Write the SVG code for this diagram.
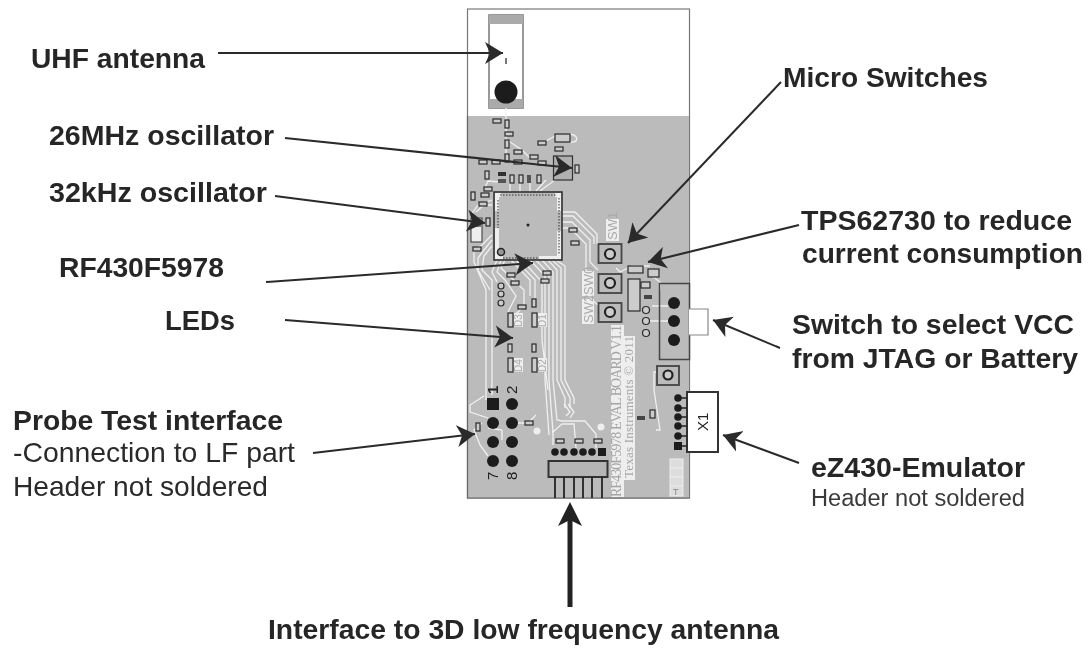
<svg xmlns="http://www.w3.org/2000/svg" width="1091" height="648" viewBox="0 0 1091 648">
<style>
.l{font-family:"Liberation Sans",Arial,sans-serif;font-weight:700;font-size:28.300px;fill:#262626}
.r{font-family:"Liberation Sans",Arial,sans-serif;font-size:28px;fill:#2a2a2a}
.s{font-family:"Liberation Sans",Arial,sans-serif;font-size:23.500px;fill:#3a3a3a}
.ar{fill:none;stroke:#2a2a2a;stroke-width:2}
.tr{fill:none;stroke:#f0f0f0;stroke-width:1.300}
.sm{fill:#ccc;stroke:#2a2a2a;stroke-width:1.200}
.sq{fill:#bbb;stroke:#444;stroke-width:1.800}
.ring{fill:#ccc;stroke:#222;stroke-width:2.200}
.pad{fill:#1e1e1e}
.silk{font-family:"Liberation Sans",Arial,sans-serif;font-size:13px;fill:#aaa}
.wb{fill:#eee}
.dark{font-family:"Liberation Sans",Arial,sans-serif;font-size:14px;fill:#222}
.ser{font-family:"Liberation Serif",serif;font-size:14px;fill:#a5a5a5}
</style>
<defs>
<marker id="a" markerUnits="userSpaceOnUse" markerWidth="22" markerHeight="26" refX="18" refY="12" orient="auto"><path d="M0 1L18 12L0 23L5 12Z" fill="#2a2a2a"/></marker>
<filter id="b"><feGaussianBlur stdDeviation="0.45"/></filter>
</defs>
<rect width="1091" height="648" fill="#fff"/>

<g id="board" filter="url(#b)">
<rect x="467.500" y="9" width="222" height="489" fill="#fff" stroke="#777" stroke-width="1.200"/>
<rect x="468" y="116" width="221" height="382" fill="#bbb"/>
<path d="M467.500 116V498H689.500" fill="none" stroke="#666" stroke-width="1.200"/>
<g id="antenna-part">
<rect x="489" y="15" width="34" height="93" fill="#fff" stroke="#777" stroke-width="1.500"/>
<rect x="489" y="15" width="34" height="9" fill="#aaa"/>
<rect x="489" y="99" width="34" height="9" fill="#aaa"/>
<circle cx="506" cy="92" r="11.500" fill="#1e1e1e"/>
<rect x="505" y="58" width="2" height="6" fill="#777"/>
</g>
<g id="traces">
<path class="tr" d="M506 108V160M507 140L522 150L530 158M555 162V180L540 191M546 180L536 191M530 182V192M520 182V192M510 182V192M500 182L488 181L484 190M555 136L546 141M570 134C580 136 578 143 570 142"/>
<path class="tr" d="M562 212H575L597 234V244M562 216H573L594 237V244M562 222H572L590 240V262L598 270M562 228H570L586 244V295L598 305"/>
<path class="tr" d="M492 200L478 205L471 215V222M492 205H484L476 212M492 235L482 245L474 250V262L486 290V400M492 240L484 250L478 258V270L490 290M492 246L484 256L482 270L492 280V395"/>
<path class="tr" d="M497 260L492 272L497 282M501 260L497 272L505 280L516 296L508 312M505 260L501 268L524 290L524 306L514 316M511 260L530 280V296M516 260L535 280V298"/>
<path class="tr" d="M522 260L542 282V340L548 390M530 260L545 276V380L549 435M536 260L549 274V380L553 432L562 424H574L576 448M542 260L553 272V380L557 420L562 421H585L596 434V448M548 260L557 270V380L565 398V408M552 260L561 268V380L570 398V408M556 260L565 266V380L574 398V404"/>
<path class="tr" d="M564 404L570 412L566 416M568 404L574 412L570 418M553 430V445"/>
<path class="tr" d="M650 266L632 266L620 272L616 268M652 276L660 282V290M652 306H668M648 321H668M678 372H654V390L660 430H656M510 423H528L536 415M488 418L470 412V405L484 396M488 428L502 430V440M482 423L474 430L480 445L488 456"/>
</g>
<g id="chip">
<rect x="494" y="192" width="68" height="68" fill="#bbb" stroke="#333" stroke-width="1.600"/>
<path d="M495 193h6v4h-2v14h-4zM555 193h6v18h-4v-14h-2zM495 228h4v20h4v11h-8zM557 231h4v28h-22v-3h18z" fill="#eee"/>
<path d="M500 195H556M559 198V254M498 200V228M503 258H538" stroke="#333" stroke-width="1" stroke-dasharray="1.500 1.500" fill="none"/>
<circle cx="528" cy="225" r="1.500" fill="#222"/>
<circle cx="501" cy="252" r="3.500" fill="#999" stroke="#222" stroke-width="1.500"/>
</g>
<g id="oscillators">
<rect x="553.500" y="156" width="19" height="24" fill="#b0b0b0" stroke="#333" stroke-width="1.200"/>
<rect x="471" y="218" width="11" height="24" fill="#eee" stroke="#333"/>
<rect x="472" y="219" width="9" height="8" fill="#777"/>
</g>
<g id="small-parts">
<rect class="sm" x="493" y="119" width="8" height="4"/><rect class="sm" x="505" y="120" width="4" height="8"/><rect class="sm" x="505" y="132" width="8" height="4"/><rect class="sm" x="505" y="140" width="4" height="8"/><rect class="sm" x="514" y="150" width="8" height="4"/><rect class="sm" x="505" y="154" width="4" height="8"/><rect class="sm" x="530" y="155" width="8" height="4"/><rect class="sm" x="538" y="161" width="8" height="4"/><rect class="sm" x="479" y="160" width="8" height="4"/><rect class="sm" x="492" y="160" width="8" height="4"/><rect class="sm" x="514" y="160" width="8" height="4"/>
<rect class="sm" x="538" y="141" width="8" height="4"/><rect class="sm" x="555" y="147" width="8" height="4"/><rect class="sm" x="555" y="134" width="15" height="8"/><rect class="sm" x="575" y="165" width="4" height="8"/>
<rect class="sm" x="485" y="171" width="4" height="8"/><rect x="498" y="172" width="8" height="4" fill="#333"/><rect x="498" y="179" width="8" height="4" fill="#555"/>
<rect class="sm" x="510" y="175" width="4" height="8"/><rect class="sm" x="519" y="175" width="4" height="8"/><rect x="527" y="175" width="4" height="8" fill="#555"/><rect class="sm" x="537" y="175" width="4" height="8"/>
<rect class="sm" x="484" y="187" width="8" height="4"/><rect class="sm" x="481" y="193" width="8" height="4"/><rect class="sm" x="479" y="202" width="8" height="4"/><rect class="sm" x="471" y="192" width="4" height="8"/>
<rect class="sm" x="486" y="218" width="4" height="8"/><rect class="sm" x="473" y="247" width="8" height="4"/>
<rect class="sm" x="569" y="228" width="8" height="4"/><rect class="sm" x="571" y="241" width="8" height="4"/>
<rect class="sm" x="507" y="273" width="8" height="4"/><rect class="sm" x="511" y="281" width="8" height="4"/><rect class="sm" x="543" y="271" width="8" height="4"/><rect class="sm" x="541" y="279" width="8" height="4"/>
<circle class="sm" cx="501" cy="286" r="3"/><circle class="sm" cx="501" cy="294" r="3"/><circle class="sm" cx="501" cy="303" r="3"/>
<circle class="sm" cx="646" cy="310" r="3.500"/><circle class="sm" cx="646" cy="321" r="3.500"/><circle class="sm" cx="646" cy="333" r="3.500"/>
<rect class="sm" x="628" y="266" width="15" height="7"/><rect class="sm" x="648" y="269" width="11" height="8"/><rect class="sm" x="628" y="279" width="12" height="32"/><rect class="sm" x="641" y="282" width="9" height="6"/><rect x="644" y="295" width="8" height="4" fill="#444"/>
<rect class="wb" x="514" y="313" width="9" height="14"/><rect class="wb" x="538" y="313" width="9" height="14"/><rect class="wb" x="514" y="358" width="9" height="14"/><rect class="wb" x="538" y="358" width="9" height="14"/>
<rect class="sm" x="508" y="313" width="5" height="14"/><rect class="sm" x="532" y="313" width="5" height="14"/><rect class="sm" x="508" y="358" width="5" height="14"/><rect class="sm" x="532" y="358" width="5" height="14"/>
<text class="silk" style="font-size:10px" transform="translate(522 327) rotate(-90)">D3</text><text class="silk" style="font-size:10px" transform="translate(546 327) rotate(-90)">D1</text><text class="silk" style="font-size:10px" transform="translate(522 372) rotate(-90)">D4</text><text class="silk" style="font-size:10px" transform="translate(546 372) rotate(-90)">D2</text>
<rect class="sm" x="508" y="344" width="4" height="8"/><rect class="sm" x="532" y="344" width="4" height="8"/><rect class="sm" x="532" y="299" width="4" height="8"/><rect class="sm" x="518" y="305" width="8" height="4"/>
<rect class="sm" x="476" y="423" width="4" height="8"/><rect class="sm" x="525" y="421" width="8" height="4"/><rect class="sm" x="556" y="439" width="8" height="4"/><rect class="sm" x="575" y="439" width="8" height="4"/><rect class="sm" x="594" y="439" width="8" height="4"/>
<rect class="sm" x="650" y="410" width="5" height="8"/><rect x="637" y="416" width="8" height="4" fill="#444"/>
<circle cx="537" cy="431" r="3.500" fill="#eee"/><circle cx="601" cy="427" r="3.500" fill="#eee"/>
</g>
<g id="switches">
<rect class="sq" x="598.500" y="244" width="23" height="19"/><circle class="ring" cx="610" cy="254" r="5"/>
<rect class="sq" x="598.500" y="274" width="23" height="19"/><circle class="ring" cx="610" cy="283" r="5"/>
<rect class="sq" x="598.500" y="303" width="23" height="19"/><circle class="ring" cx="610" cy="312" r="5"/>
<rect class="sq" x="657" y="366" width="22" height="19"/><circle class="ring" cx="668" cy="375" r="4.500"/>
<rect class="wb" x="606" y="219" width="13" height="22"/><rect class="wb" x="582" y="271" width="12" height="25"/><rect class="wb" x="582" y="299" width="12" height="25"/>
<text class="silk" transform="translate(617 240) rotate(-90)">SW1</text>
<text class="silk" transform="translate(593 295) rotate(-90)">SW0</text>
<text class="silk" transform="translate(593 323) rotate(-90)">SW2</text>
</g>
<g id="vcc-switch">
<rect x="659.500" y="283.500" width="30" height="76" fill="none" stroke="#444" stroke-width="1.500"/>
<path d="M689 309H708V335H689" fill="#fff" stroke="#888" stroke-width="1.200"/>
<circle class="pad" cx="674" cy="303" r="6"/><circle class="pad" cx="674" cy="321" r="6"/><circle class="pad" cx="674" cy="340" r="6"/>
</g>
<g id="x1-header">
<rect x="687" y="392" width="31" height="60" fill="#fff" stroke="#333" stroke-width="2"/>
<path d="M678 398H687M678 408H687M678 417H687M678 426H687M678 436H687M678 446H687" stroke="#222" stroke-width="1.500"/>
<circle class="pad" cx="678" cy="398" r="3.800"/><circle class="pad" cx="678" cy="408" r="3.800"/><circle class="pad" cx="678" cy="417" r="3.800"/><circle class="pad" cx="678" cy="426" r="3.800"/><circle class="pad" cx="678" cy="436" r="3.800"/><rect class="pad" x="674" y="442" width="8" height="8"/>
<text class="dark" style="font-size:15px" transform="translate(708 431) rotate(-90)">X1</text>
</g>
<g id="probe-header">
<rect class="pad" x="487" y="398" width="12" height="12"/>
<circle class="pad" cx="512" cy="404" r="6"/><circle class="pad" cx="493" cy="423" r="6"/><circle class="pad" cx="512" cy="423" r="6"/><circle class="pad" cx="493" cy="442" r="6"/><circle class="pad" cx="512" cy="442" r="6"/><circle class="pad" cx="493" cy="461" r="6"/><circle class="pad" cx="512" cy="461" r="6"/>
<text class="dark" style="font-size:15px;font-weight:700" transform="translate(498 394) rotate(-90)">1</text>
<text class="dark" style="font-size:15px" transform="translate(517 394) rotate(-90)">2</text>
<text class="dark" style="font-size:15px" transform="translate(498 480) rotate(-90)">7</text>
<text class="dark" style="font-size:15px" transform="translate(517 480) rotate(-90)">8</text>
</g>
<g id="lf-connector">
<circle class="pad" cx="555" cy="452" r="3.800"/><circle class="pad" cx="564" cy="452" r="3.800"/><circle class="pad" cx="574" cy="452" r="3.800"/><circle class="pad" cx="583" cy="452" r="3.800"/><circle class="pad" cx="592" cy="452" r="3.800"/><rect class="pad" x="598" y="448" width="8" height="8"/>
<rect x="548.500" y="461" width="59" height="16" fill="#b5b5b5" stroke="#333" stroke-width="2"/>
<path d="M555 477V498M564 477V498M574 477V498M583 477V498M592 477V498M602 477V498" stroke="#222" stroke-width="1.800"/>
</g>
<g id="silk-text">
<rect class="wb" x="611" y="325" width="13" height="172"/>
<rect class="wb" x="624" y="336" width="11" height="144"/>
<text class="ser" transform="translate(621 497) rotate(-90)" textLength="172">RF430F5978 EVAL BOARD V1.1</text>
<text class="ser" style="font-size:13px" transform="translate(633 478) rotate(-90)" textLength="142">Texas Instruments © 2011</text>
<rect x="670" y="459" width="13" height="37" fill="#ddd" stroke="#eee"/>
<path d="M670 468H683M670 477H683M670 486H683" stroke="#eee"/>
<text class="silk" style="font-size:9px;fill:#888" x="673" y="495">T</text>
</g>
</g>

<g id="connectors">
<path class="ar" d="M218 53H503" marker-end="url(#a)"/>
<path class="ar" d="M285 138L572 168" marker-end="url(#a)"/>
<path class="ar" d="M275 196L485 223" marker-end="url(#a)"/>
<path class="ar" d="M266 282L533 263" marker-end="url(#a)"/>
<path class="ar" d="M285 320L513 338" marker-end="url(#a)"/>
<path class="ar" d="M313 453L475 434" marker-end="url(#a)"/>
<path class="ar" d="M781 82L628 243" marker-end="url(#a)"/>
<path class="ar" d="M799 225L648 262" marker-end="url(#a)"/>
<path class="ar" d="M780 348L713 320" marker-end="url(#a)"/>
<path class="ar" d="M799 463L723 435" marker-end="url(#a)"/>
<path d="M570 607V515" fill="none" stroke="#222" stroke-width="5"/>
<path d="M570 502L582 526L570 520L558 526Z" fill="#222"/>
</g>

<g id="labels">
<text class="l" x="31" y="68" textLength="174" lengthAdjust="spacingAndGlyphs">UHF antenna</text>
<text class="l" x="49" y="145" textLength="225" lengthAdjust="spacingAndGlyphs">26MHz oscillator</text>
<text class="l" x="49" y="202" textLength="218" lengthAdjust="spacingAndGlyphs">32kHz oscillator</text>
<text class="l" x="59" y="277" textLength="165" lengthAdjust="spacingAndGlyphs">RF430F5978</text>
<text class="l" x="165" y="330" textLength="70" lengthAdjust="spacingAndGlyphs">LEDs</text>
<text class="l" x="13" y="430" textLength="270" lengthAdjust="spacingAndGlyphs">Probe Test interface</text>
<text class="r" x="13" y="462" textLength="282" lengthAdjust="spacingAndGlyphs">-Connection to LF part</text>
<text class="r" x="13" y="496" textLength="255" lengthAdjust="spacingAndGlyphs">Header not soldered</text>
<text class="l" x="783" y="87" textLength="205" lengthAdjust="spacingAndGlyphs">Micro Switches</text>
<text class="l" x="801" y="230" textLength="271" lengthAdjust="spacingAndGlyphs">TPS62730 to reduce</text>
<text class="l" x="802" y="263" textLength="281" lengthAdjust="spacingAndGlyphs">current consumption</text>
<text class="l" x="792" y="334" textLength="282" lengthAdjust="spacingAndGlyphs">Switch to select VCC</text>
<text class="l" x="792" y="368" textLength="286" lengthAdjust="spacingAndGlyphs">from JTAG or Battery</text>
<text class="l" x="811" y="477" textLength="214" lengthAdjust="spacingAndGlyphs">eZ430-Emulator</text>
<text class="s" x="811" y="506" textLength="214" lengthAdjust="spacingAndGlyphs">Header not soldered</text>
<text class="l" x="268" y="639" textLength="511" lengthAdjust="spacingAndGlyphs">Interface to 3D low frequency antenna</text>
</g>
</svg>
